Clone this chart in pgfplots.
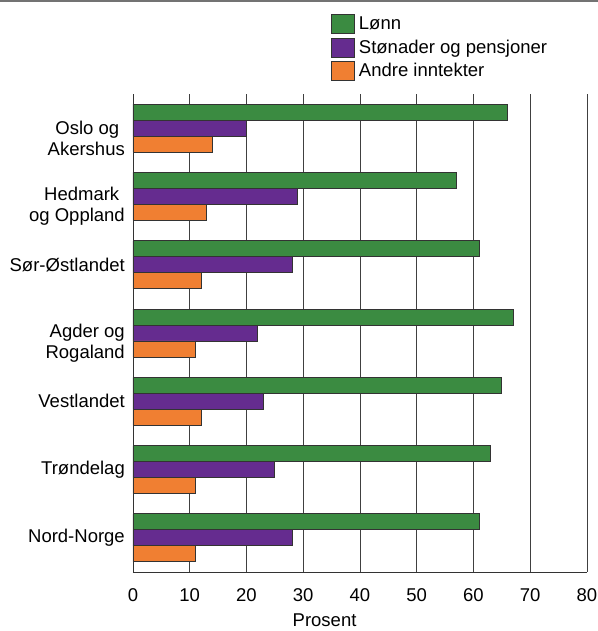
\documentclass[border=0pt]{standalone}
\usepackage{fontspec}
\setmainfont{Liberation Sans}
\usepackage{pgfplots}
\pgfplotsset{compat=1.18}
\definecolor{lonn}{HTML}{3B8B41}
\definecolor{stonad}{HTML}{652C8F}
\definecolor{andre}{HTML}{F07F32}

\begin{document}
\fontsize{18.5bp}{21.5bp}\selectfont
\begin{tikzpicture}
\useasboundingbox (-133bp,-59bp) rectangle (465bp,572bp);
\fill[black!55] (-133bp,569.5bp) rectangle (465bp,572bp);
\begin{axis}[
    at={(0,0)}, anchor=south west,
    scale only axis, width=454bp, height=478bp,
    xbar, bar width=0.234,
    xmin=0, xmax=80, ymin=-0.5, ymax=6.5, y dir=reverse,
    axis x line*=bottom, axis y line*=left,
    axis line style={black!80, line width=0.8pt},
    xtick={0,10,...,80},
    xmajorgrids, grid style={black!75, line width=0.7pt},
    major tick length=0pt,
    /pgf/number format/assume math mode=true,
    xticklabel style={inner sep=0pt, anchor=north, yshift=-16bp},
    ytick={2,4,5,6},
    yticklabels={Sør-Østlandet, Vestlandet, Trøndelag, Nord-Norge},
    yticklabel style={inner sep=0pt, anchor=east, align=right, xshift=-8bp},
    extra y ticks={0,1,3},
    extra y tick labels={{Oslo og\hspace*{0.3em}\\Akershus},
        {Hedmark\hspace*{0.3em}\\og Oppland}, {Agder og\\Rogaland}},
    extra y tick style={yticklabel style={yshift=-10bp}},
    xlabel={Prosent},
    xlabel style={at={(axis description cs:0.422,0)}, anchor=north,
        inner sep=0pt, yshift=-42bp},
    legend style={at={(axis description cs:0.436,1.167)}, anchor=north west,
        draw=none, fill=none, inner sep=0pt, row sep=3.7bp,
        nodes={inner sep=0pt}, cells={anchor=west}},
    legend image code/.code={\draw[#1, draw=black!80] (0bp,-9.5bp) rectangle (23bp,9.5bp);},
    legend cell align=left,
]
\addplot[fill=lonn, draw=black!80, line width=0.8pt, bar shift=-0.234] coordinates {
    (66,0) (57,1) (61,2) (67,3) (65,4) (63,5) (61,6)};
\addlegendentry{\hspace{4bp}Lønn}
\addplot[fill=stonad, draw=black!80, line width=0.8pt, bar shift=0] coordinates {
    (20,0) (29,1) (28,2) (22,3) (23,4) (25,5) (28,6)};
\addlegendentry{\hspace{4bp}Stønader og pensjoner}
\addplot[fill=andre, draw=black!80, line width=0.8pt, bar shift=0.234] coordinates {
    (14,0) (13,1) (12,2) (11,3) (12,4) (11,5) (11,6)};
\addlegendentry{\hspace{4bp}Andre inntekter}
\end{axis}
\end{tikzpicture}
\end{document}
